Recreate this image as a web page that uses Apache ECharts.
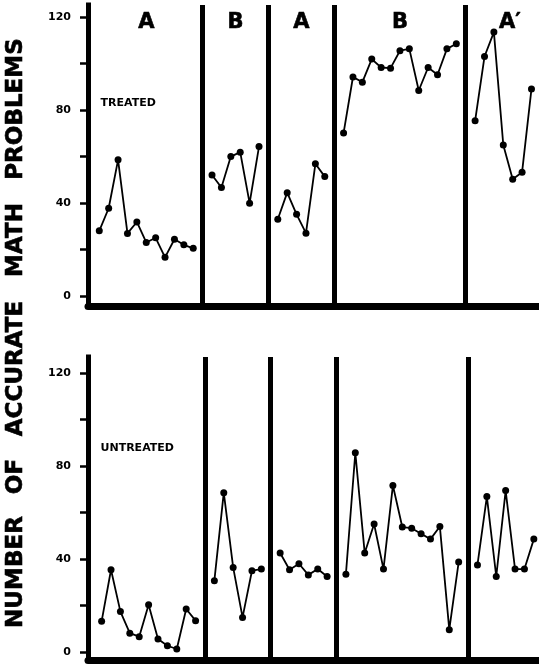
<!DOCTYPE html>
<html>
<head>
<meta charset="utf-8">
<style>
  html, body { margin: 0; padding: 0; background: #fff; }
  #chart { width: 539px; height: 668px; }
</style>
<script src="https://cdn.jsdelivr.net/npm/echarts@6/dist/echarts.min.js"></script>
</head>
<body>
<div id="chart"></div>
<script>
// ---------- DATA ----------
const phaseLabels = ['A', 'B', 'A', 'B', 'A\u2032'];

// TREATED panel, one array per phase
const treatedA1 = [28, 37.7, 58.5, 26.9, 31.8, 23, 25, 16.6, 24.4, 22, 20.5];
const treatedB1 = [52, 46.6, 59.9, 61.8, 39.9, 64.2];
const treatedA2 = [33, 44.4, 35.1, 27, 56.8, 51.3];
const treatedB2 = [70, 94.1, 91.9, 101.8, 98.2, 97.9, 105.4, 106.2, 88.3, 98.2, 95.1, 106.2, 108.4];
const treatedA3 = [75.3, 102.9, 113.4, 64.9, 50.2, 53.2, 89];

// UNTREATED panel, one array per phase
const untreatedA1 = [13.2, 35.4, 17.4, 8.1, 6.6, 20.3, 5.6, 2.7, 1.3, 18.5, 13.5];
const untreatedB1 = [30.7, 68.6, 36.4, 14.9, 35, 35.7];
const untreatedA2 = [42.6, 35.4, 38, 33.2, 35.7, 32.5];
const untreatedB2 = [33.5, 85.8, 42.6, 55.1, 35.7, 71.7, 53.8, 53.3, 50.9, 48.6, 54, 9.6, 38.7];
const untreatedA3 = [37.5, 66.9, 32.5, 69.5, 35.7, 35.7, 48.6];

const yTickValues = [0, 20, 40, 60, 80, 100, 120];
const yLabelValues = [0, 40, 80, 120];

const panelNames = ['TREATED', 'UNTREATED'];
const titleWords = ['NUMBER', 'OF', 'ACCURATE', 'MATH', 'PROBLEMS'];

// ---------- BUILD ----------
const treatedPhases = [treatedA1, treatedB1, treatedA2, treatedB2, treatedA3];
const untreatedPhases = [untreatedA1, untreatedB1, untreatedA2, untreatedB2, untreatedA3];

const FONT = 'DejaVu Sans';

function layoutPhases(phases) {
  let start = 1;
  const res = { series: [], boundaries: [], mids: [] };
  phases.forEach((vals, p) => {
    res.series.push(vals.map((v, i) => [start + i, v]));
    res.mids.push(start + (vals.length - 1) / 2);
    start += vals.length;
    if (p < phases.length - 1) { res.boundaries.push(start); }
    start += 1;
  });
  return res;
}

const layoutTop = layoutPhases(treatedPhases);
const layoutBot = layoutPhases(untreatedPhases);

function yAxisFor(gridIndex, min, max) {
  return {
    type: 'value', gridIndex, min, max,
    axisLine: { show: true, onZero: false, lineStyle: { color: '#000', width: 5, cap: 'square' } },
    axisTick: { show: true, length: 8, customValues: yTickValues, lineStyle: { color: '#000', width: 2.5 } },
    axisLabel: { show: true, customValues: yLabelValues, margin: 17, color: '#000',
                 fontFamily: FONT, fontWeight: 'bold', fontSize: 11 },
    splitLine: { show: false }
  };
}
function xAxisFor(gridIndex, min, max) {
  return {
    type: 'value', gridIndex, min, max,
    axisLine: { show: true, onZero: false, lineStyle: { color: '#000', width: 7 } },
    axisTick: { show: false }, axisLabel: { show: false }, splitLine: { show: false }
  };
}

function phaseSeries(layout, gridIndex) {
  const out = [];
  layout.series.forEach((d, i) => {
    const s = {
      type: 'line', xAxisIndex: gridIndex, yAxisIndex: gridIndex, data: d,
      symbol: 'circle', symbolSize: 7, showSymbol: true,
      lineStyle: { color: '#000', width: 1.8 }, itemStyle: { color: '#000', opacity: 1 },
      animation: false, z: 5
    };
    if (i === 0) {
      s.markLine = {
        silent: true, symbol: 'none', animation: false,
        label: { show: false },
        lineStyle: { color: '#000', width: 5, type: 'solid', opacity: 1 },
        data: layout.boundaries.map(b => ({ xAxis: b }))
      };
    }
    out.push(s);
  });
  return out;
}

const phaseLabelY = 117.5;
const labelSeries = {
  type: 'scatter', xAxisIndex: 0, yAxisIndex: 0, symbolSize: 0, animation: false,
  itemStyle: { opacity: 1, color: '#000' },
  data: layoutTop.mids.map((m, i) => ({ value: [m + (i === 4 ? 0.7 : 0), phaseLabelY], name: phaseLabels[i] })),
  label: { show: true, position: 'inside', formatter: '{b}', color: '#000', opacity: 1,
           textBorderWidth: 0.6, textBorderColor: '#000',
           fontFamily: FONT, fontWeight: 'bold', fontSize: 21 }
};

const titleCenters = [572, 476.5, 368.5, 240, 109];
const graphics = titleWords.map((w, i) => ({
  type: 'text', x: 16.5, y: titleCenters[i], rotation: Math.PI / 2,
  style: { text: w, fill: '#000', stroke: '#000', lineWidth: 0.6,
           font: 'bold 23px "DejaVu Sans"', align: 'center', verticalAlign: 'middle' }
}));
graphics.push({ type: 'text', left: 100.5, top: 97.5,
  style: { text: panelNames[0], fill: '#000', font: 'bold 11px "DejaVu Sans"' } });
graphics.push({ type: 'text', left: 100.5, top: 442.5,
  style: { text: panelNames[1], fill: '#000', font: 'bold 11px "DejaVu Sans"' } });

const chart = echarts.init(document.getElementById('chart'), null, { renderer: 'canvas' });
chart.setOption({
  backgroundColor: '#fff',
  animation: false,
  grid: [
    { left: 88, top: 5, width: 451, height: 301 },
    { left: 88, top: 357, width: 451, height: 303.5 }
  ],
  xAxis: [xAxisFor(0, -0.2, 47.8), xAxisFor(1, -0.45, 47.55)],
  yAxis: [yAxisFor(0, -4.3, 125.05), yAxisFor(1, -3.66, 127)],
  series: [...phaseSeries(layoutTop, 0), ...phaseSeries(layoutBot, 1), labelSeries],
  graphic: graphics
});
</script>
</body>
</html>
